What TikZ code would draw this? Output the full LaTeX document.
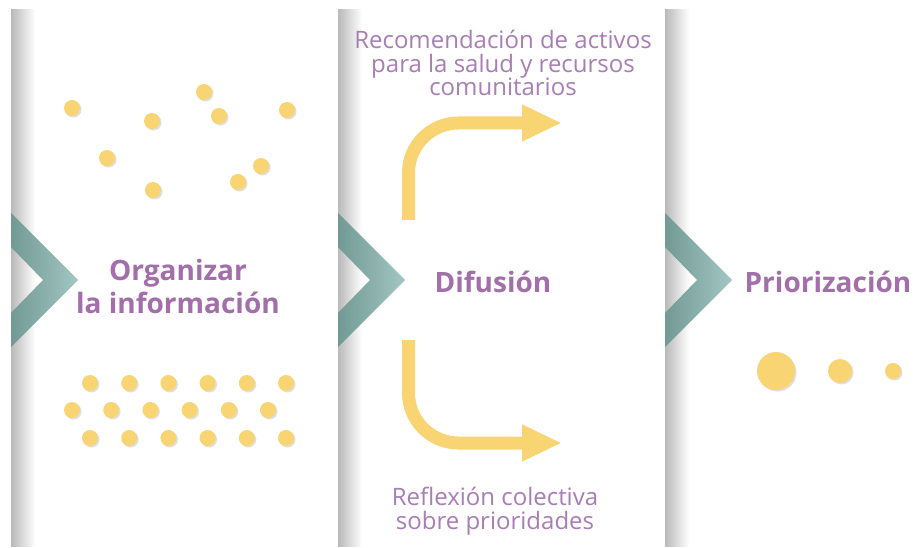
\documentclass[tikz,border=0pt]{standalone}
\usepackage{fontspec}
\setmainfont{Open Sans}
\usetikzlibrary{arrows.meta,shadows}
\definecolor{dotyellow}{HTML}{F8D572}
\definecolor{labelpurple}{HTML}{A26FAA}
\definecolor{notepurple}{HTML}{A87EB4}
\definecolor{tealdark}{HTML}{729A95}
\definecolor{teallight}{HTML}{A3C6C2}
\tikzset{dot/.style = {circle, fill=dotyellow, inner sep=0pt, minimum size=16pt,
                       drop shadow={shadow xshift=1.5pt, shadow yshift=-1.5pt, opacity=.25}},
       phase/.style = {text=labelpurple, align=center,
                       font=\bfseries\fontsize{28}{33}\selectfont},
        note/.style = {text=notepurple, align=center,
                       font=\fontsize{24}{23.5}\selectfont},
        flow/.style = {draw=dotyellow, line width=13pt, rounded corners=50pt,
                       -{Triangle[length=40pt,width=34pt]}}
        }

\begin{document}
\begin{tikzpicture}[x=1pt,y=-1pt]
 \useasboundingbox[fill=white] (0,0) rectangle (913,548);
 % panel edges and chevrons
 \foreach \X [count=\i] in {11,338,665}
 {\shade[left color=gray!55, right color=white] (\X,10) rectangle (\X+24,546);
  \shade[left color=tealdark, right color=teallight]
   (\X,213) -- (\X+67,280) -- (\X,347) -- (\X,313) -- (\X+32,280) -- (\X,247) -- cycle;}
 % scattered information
 \foreach \X/\Y [count=\Z] in {72/108,152/121,107/158,153/190,204/92,219/116,287/110,261/166,238/182}
  \node[dot] (s-\Z) at (\X,\Y) {};
 % ordered information
 \foreach \R/\Y/\O in {1/383/90,2/410/72,3/438/90}
 {\foreach \C in {1,...,6}
  \node[dot] (g-\R-\C) at (\O+\C*39.2-39.2,\Y) {};}
 \node[phase] (organizar) at (178,286) {Organizar\\la información};
 \node[phase,anchor=base] (difusion) at (493,292) {Difusión};
 \node[phase,anchor=base] (priorizacion) at (828,292) {Priorización};
 % dissemination
 \node[note] (activos) at (503,63) {Recomendación de activos\\para la salud y recursos\\comunitarios};
 \node[note] (reflexion) at (495,511) {Reflexión colectiva\\sobre prioridades};
 \coordinate (up-start) at (408.5,220);
 \coordinate (up-end) at (562,123);
 \coordinate (down-start) at (408.5,340);
 \coordinate (down-end) at (562,443);
 \draw[flow] (up-start) |- (up-end);
 \draw[flow] (down-start) |- (down-end);
 % priority
 \node[dot,minimum size=38pt] (p-1) at (776,371) {};
 \node[dot,minimum size=24pt] (p-2) at (840,371) {};
 \node[dot] (p-3) at (893,371) {};
\end{tikzpicture}
\end{document}
